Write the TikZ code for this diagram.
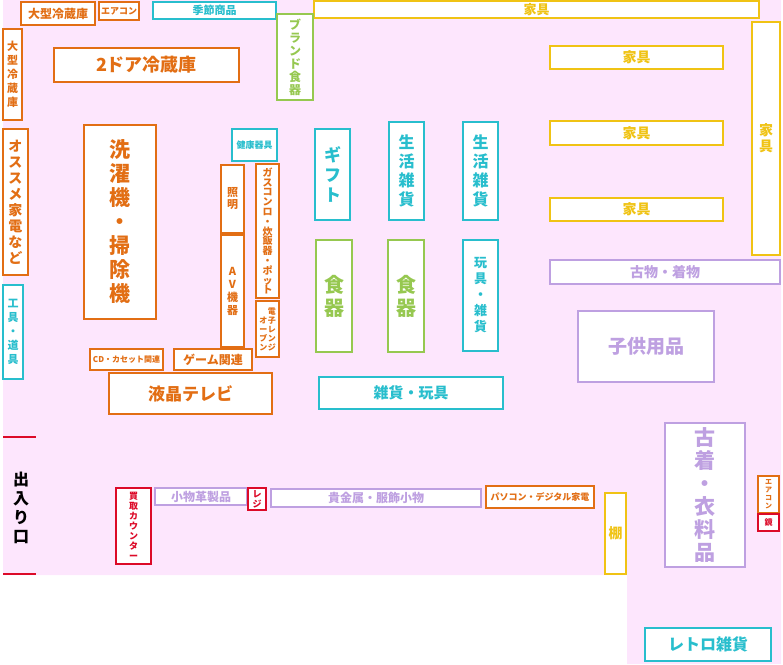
\documentclass[tikz,border=0pt]{standalone}
\usepackage{fontspec}
\setmainfont{Noto Sans CJK JP}
\definecolor{myorange}{RGB}{226,110,20}
\definecolor{mycyan}{RGB}{40,190,205}
\definecolor{mygreen}{RGB}{150,200,80}
\definecolor{myyellow}{RGB}{240,195,20}
\definecolor{mypurple}{RGB}{190,160,225}
\definecolor{myred}{RGB}{220,10,40}
\definecolor{mypink}{RGB}{253,230,253}
\tikzset{
	shelf/.style = {draw=#1, text=#1, fill=white, line width=1.1pt, inner sep=0pt,
		font=\bfseries, align=center},
	x=1pt, y=-1pt
}
% \zone{style}{name}{x1}{y1}{x2}{y2}{text}
\newcommand\zone[7]{\node[shelf=#1, minimum width={#5pt-#3pt}, minimum height={#6pt-#4pt}]
	(#2) at ({(#3+#5)/2},{(#4+#6)/2}) {#7};}
\newcommand\vt[1]{\vbox{\let\\\cr\lineskiplimit=-30pt\halign{\hfil##\hfil\cr#1\crcr}}}
\begin{document}
\begin{tikzpicture}
  \useasboundingbox (0,0) rectangle (783,664);
  % floor
  \fill[mypink] (3,0) -- (781,0) -- (781,664) -- (627,664) -- (627,575) -- (3,575) -- cycle;

  % left wall
  \zone{myorange}{bigfridge}{21}{2}{95}{25}{\fontsize{12}{12}\selectfont 大型冷蔵庫}
  \zone{myorange}{aircon}{99}{2}{139}{20}{\fontsize{9}{9}\selectfont エアコン}
  \zone{mycyan}{season}{153}{2}{276}{19}{\fontsize{11}{11}\selectfont 季節商品}
  \zone{myyellow}{furntop}{314}{1}{759}{18}{\fontsize{13}{13}\selectfont 家具}
  \zone{mygreen}{brand}{277}{14}{313}{100}{\fontsize{12}{13}\selectfont\vt{ブ\\ラ\\ン\\ド\\食\\器}}
  \zone{myorange}{bigfridgev}{3}{29}{22}{120}{\fontsize{11}{14}\selectfont\vt{大\\型\\冷\\蔵\\庫}}
  \zone{myorange}{twodoor}{54}{48}{239}{82}{\fontsize{18}{18}\selectfont 2ドア冷蔵庫}
  \zone{myorange}{recommend}{3}{129}{28}{275}{\fontsize{14}{16}\selectfont\vt{オ\\ス\\ス\\メ\\家\\電\\な\\ど}}
  \zone{mycyan}{tools}{3}{285}{23}{379}{\fontsize{11}{14}\selectfont\vt{工\\具\\・\\道\\具}}

  % appliances
  \zone{myorange}{washer}{84}{125}{156}{319}{\fontsize{21}{24}\selectfont\vt{洗\\濯\\機\\・\\掃\\除\\機}}
  \zone{mycyan}{health}{232}{129}{277}{161}{\fontsize{9}{9}\selectfont 健康器具}
  \zone{myorange}{light}{221}{165}{244}{233}{\fontsize{11}{12}\selectfont\vt{照\\明}}
  \zone{myorange}{av}{221}{235}{244}{347}{\fontsize{11}{13}\selectfont\vt{A\\V\\機\\器}}
  \zone{myorange}{gas}{256}{164}{279}{298}{\fontsize{10}{9.8}\selectfont\vt{ガ\\ス\\コ\\ン\\ロ\\・\\炊\\飯\\器\\・\\ポ\\ッ\\ト}}
  \zone{myorange}{oven}{256}{301}{279}{357}{\fontsize{8}{9}\selectfont\vt{\\オ\\ー\\ブ\\ン}\hspace{0.5pt}\vt{電\\子\\レ\\ン\\ジ}}
  \zone{myorange}{cd}{90}{349}{163}{370}{\fontsize{8}{8}\selectfont CD・カセット関連}
  \zone{myorange}{game}{174}{349}{252}{370}{\fontsize{12}{12}\selectfont ゲーム関連}
  \zone{myorange}{tv}{109}{373}{272}{414}{\fontsize{17}{17}\selectfont 液晶テレビ}

  % middle
  \zone{mycyan}{gift}{315}{129}{350}{220}{\fontsize{17}{20}\selectfont\vt{ギ\\フ\\ト}}
  \zone{mygreen}{dishA}{316}{240}{352}{352}{\fontsize{20}{23}\selectfont\vt{食\\器}}
  \zone{mygreen}{dishB}{388}{240}{424}{352}{\fontsize{20}{23}\selectfont\vt{食\\器}}
  \zone{mycyan}{dailyA}{389}{122}{424}{220}{\fontsize{16}{19}\selectfont\vt{生\\活\\雑\\貨}}
  \zone{mycyan}{dailyB}{463}{122}{498}{220}{\fontsize{16}{19}\selectfont\vt{生\\活\\雑\\貨}}
  \zone{mycyan}{toysA}{463}{240}{498}{351}{\fontsize{13}{16}\selectfont\vt{玩\\具\\・\\雑\\貨}}
  \zone{mycyan}{toysB}{319}{377}{503}{409}{\fontsize{15}{15}\selectfont 雑貨・玩具}

  % right
  \zone{myyellow}{furnA}{550}{46}{723}{69}{\fontsize{14}{14}\selectfont 家具}
  \zone{myyellow}{furnB}{550}{121}{723}{145}{\fontsize{14}{14}\selectfont 家具}
  \zone{myyellow}{furnC}{550}{198}{723}{221}{\fontsize{14}{14}\selectfont 家具}
  \zone{myyellow}{furnD}{752}{22}{780}{255}{\fontsize{14}{16}\selectfont\vt{家\\具}}
  \zone{mypurple}{antique}{550}{260}{780}{284}{\fontsize{14}{14}\selectfont 古物・着物}
  \zone{mypurple}{kids}{578}{311}{714}{382}{\fontsize{19}{19}\selectfont 子供用品}
  \zone{mypurple}{clothes}{665}{423}{745}{567}{\fontsize{21}{23}\selectfont\vt{古\\着\\・\\衣\\料\\品}}
  \zone{myorange}{airconB}{758}{476}{779}{513}{\fontsize{7}{8}\selectfont\vt{エ\\ア\\コ\\ン}}
  \zone{myred}{mirror}{758}{514}{779}{531}{\fontsize{8}{8}\selectfont 鏡}

  % entrance area
  \draw[myred, line width=2.5pt] (3,437) -- (36,437) (3,574) -- (36,574);
  \node[font=\bfseries\fontsize{16}{19}\selectfont] (entrance) at (21,508) {\vt{出\\入\\り\\口}};
  \zone{myred}{buy}{116}{488}{151}{564}{\fontsize{9}{10}\selectfont\vt{買\\取\\カ\\ウ\\ン\\タ\\ー}}
  \zone{mypurple}{leather}{155}{488}{247}{505}{\fontsize{12}{12}\selectfont 小物革製品}
  \zone{myred}{register}{248}{488}{266}{510}{\fontsize{9}{10}\selectfont\vt{レ\\ジ}}
  \zone{mypurple}{jewel}{271}{489}{481}{507}{\fontsize{12}{12}\selectfont 貴金属・服飾小物}
  \zone{myorange}{pc}{486}{486}{594}{508}{\fontsize{9}{9}\selectfont パソコン・デジタル家電}
  \zone{myyellow}{rack}{605}{493}{626}{574}{\fontsize{14}{14}\selectfont 棚}
  \zone{mycyan}{retro}{645}{628}{771}{661}{\fontsize{16}{16}\selectfont レトロ雑貨}
\end{tikzpicture}
\end{document}
